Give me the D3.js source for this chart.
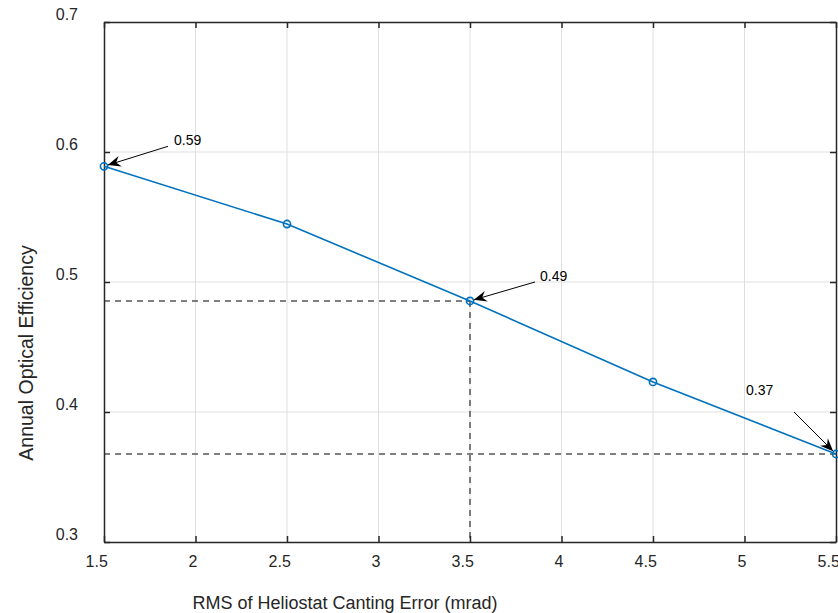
<!DOCTYPE html>
<html>
<head>
<meta charset="utf-8">
<script src="https://cdn.jsdelivr.net/npm/d3@7"></script>
<style>
  body { margin: 0; background: #fff; }
  svg text { font-family: "Liberation Sans", Arial, sans-serif; }
</style>
</head>
<body>
<div id="chart"></div>
<script>
// dados do gráfico
const errors = [1.5, 2.5, 3.5, 4.5, 5.5];
const efficiency = [0.589, 0.5446, 0.4854, 0.4231, 0.3677];
const xTicks = [1.5, 2, 2.5, 3, 3.5, 4, 4.5, 5, 5.5];
const yTicks = [0.3, 0.4, 0.5, 0.6, 0.7];
const noteIndex = [0, 2, 4];
const noteLabels = ["0.59", "0.49", "0.37"];

// posição das anotações relativa ao ponto (texto e cauda da seta)
const noteLayout = [
  { tx: 70, ty: -21, ax: 64, ay: -20 },
  { tx: 70, ty: -20, ax: 65, ay: -19 },
  { tx: -90, ty: -59, ax: -42, ay: -42 },
];

const width = 838, height = 613;
const margin = { top: 22, right: 2, bottom: 71, left: 104 };
const w = width - margin.left - margin.right;
const h = height - margin.top - margin.bottom;

const svg = d3.select("#chart").append("svg")
  .attr("width", width).attr("height", height);

svg.append("defs").append("marker")
  .attr("id", "arrow")
  .attr("viewBox", "0 0 12 10")
  .attr("refX", 12).attr("refY", 5)
  .attr("markerWidth", 13).attr("markerHeight", 11)
  .attr("markerUnits", "userSpaceOnUse")
  .attr("orient", "auto")
  .append("path")
  .attr("d", "M0,0 L12,5 L0,10 L4,5 Z")
  .attr("fill", "#000");

const g = svg.append("g")
  .attr("transform", `translate(${margin.left},${margin.top})`);

const x = d3.scaleLinear().domain([1.5, 5.5]).range([0, w]);
const y = d3.scaleLinear().domain([0.3, 0.7]).range([h, 0]);

// grade
g.append("g").selectAll("line").data(xTicks.slice(1, -1)).enter().append("line")
  .attr("x1", d => x(d)).attr("x2", d => x(d))
  .attr("y1", 0).attr("y2", h)
  .attr("stroke", "#dfdfdf").attr("stroke-width", 1);
g.append("g").selectAll("line").data(yTicks.slice(1, -1)).enter().append("line")
  .attr("y1", d => y(d)).attr("y2", d => y(d))
  .attr("x1", 0).attr("x2", w)
  .attr("stroke", "#dfdfdf").attr("stroke-width", 1);

// linhas tracejadas
const dash = g.append("g")
  .attr("stroke", "#555").attr("stroke-width", 1.5)
  .attr("stroke-dasharray", "6,5").attr("fill", "none");
dash.append("line")
  .attr("x1", x(errors[0])).attr("x2", x(errors[2]))
  .attr("y1", y(efficiency[2])).attr("y2", y(efficiency[2]));
dash.append("line")
  .attr("x1", x(errors[2])).attr("x2", x(errors[2]))
  .attr("y1", y(efficiency[2])).attr("y2", h);
dash.append("line")
  .attr("x1", x(errors[0])).attr("x2", x(errors[4]))
  .attr("y1", y(efficiency[4])).attr("y2", y(efficiency[4]));

// eixos
const axisBottom = d3.axisBottom(x).tickValues(xTicks).tickSizeInner(-6).tickSizeOuter(0)
  .tickPadding(14).tickFormat(d3.format("~g"));
const axisLeft = d3.axisLeft(y).tickValues(yTicks).tickSizeInner(-6).tickSizeOuter(0)
  .tickPadding(26).tickFormat(d3.format(".1f"));
const axisTop = d3.axisTop(x).tickValues(xTicks).tickSizeInner(-6).tickSizeOuter(0).tickFormat("");
const axisRight = d3.axisRight(y).tickValues(yTicks).tickSizeInner(-6).tickSizeOuter(0).tickFormat("");

function styleAxis(sel) {
  sel.selectAll("path").attr("stroke", "#262626").attr("stroke-width", 1.5);
  sel.selectAll("line").attr("stroke", "#262626").attr("stroke-width", 1.5);
  sel.selectAll("text").attr("fill", "#262626").style("font-size", "16px");
}
const gx = g.append("g").attr("transform", `translate(0,${h})`).call(axisBottom).call(styleAxis);
gx.selectAll(".tick text").attr("x", function () {
  return -0.35 * this.getComputedTextLength();
});
const gy = g.append("g").call(axisLeft).call(styleAxis);
gy.selectAll(".tick text").attr("y", -8);
g.append("g").call(axisTop).call(styleAxis);
g.append("g").attr("transform", `translate(${w},0)`).call(axisRight).call(styleAxis);

// série
const line = d3.line().x((d, i) => x(errors[i])).y(d => y(d));
g.append("path").datum(efficiency)
  .attr("d", line).attr("fill", "none")
  .attr("stroke", "#0072BD").attr("stroke-width", 1.6);
g.append("g").selectAll("circle").data(efficiency).enter().append("circle")
  .attr("cx", (d, i) => x(errors[i])).attr("cy", d => y(d)).attr("r", 3.6)
  .attr("fill", "none").attr("stroke", "#0072BD").attr("stroke-width", 1.6);

// anotações
noteIndex.forEach((k, j) => {
  const px = x(errors[k]), py = y(efficiency[k]);
  const L = noteLayout[j];
  const len = Math.hypot(L.ax, L.ay);
  g.append("line")
    .attr("x1", px + L.ax).attr("y1", py + L.ay)
    .attr("x2", px + L.ax / len * 4).attr("y2", py + L.ay / len * 4)
    .attr("stroke", "#000").attr("stroke-width", 1)
    .attr("marker-end", "url(#arrow)");
  g.append("text").attr("x", px + L.tx).attr("y", py + L.ty)
    .style("font-size", "14px").attr("fill", "#000").text(noteLabels[j]);
});

// rótulos dos eixos
svg.append("text")
  .attr("x", 345).attr("y", 609)
  .attr("text-anchor", "middle").attr("fill", "#262626")
  .style("font-size", "18px")
  .text("RMS of Heliostat Canting Error (mrad)");
svg.append("text")
  .attr("transform", "translate(33,353) rotate(-90)")
  .attr("text-anchor", "middle").attr("fill", "#262626")
  .style("font-size", "19.5px")
  .text("Annual Optical Efficiency");
</script>
</body>
</html>
